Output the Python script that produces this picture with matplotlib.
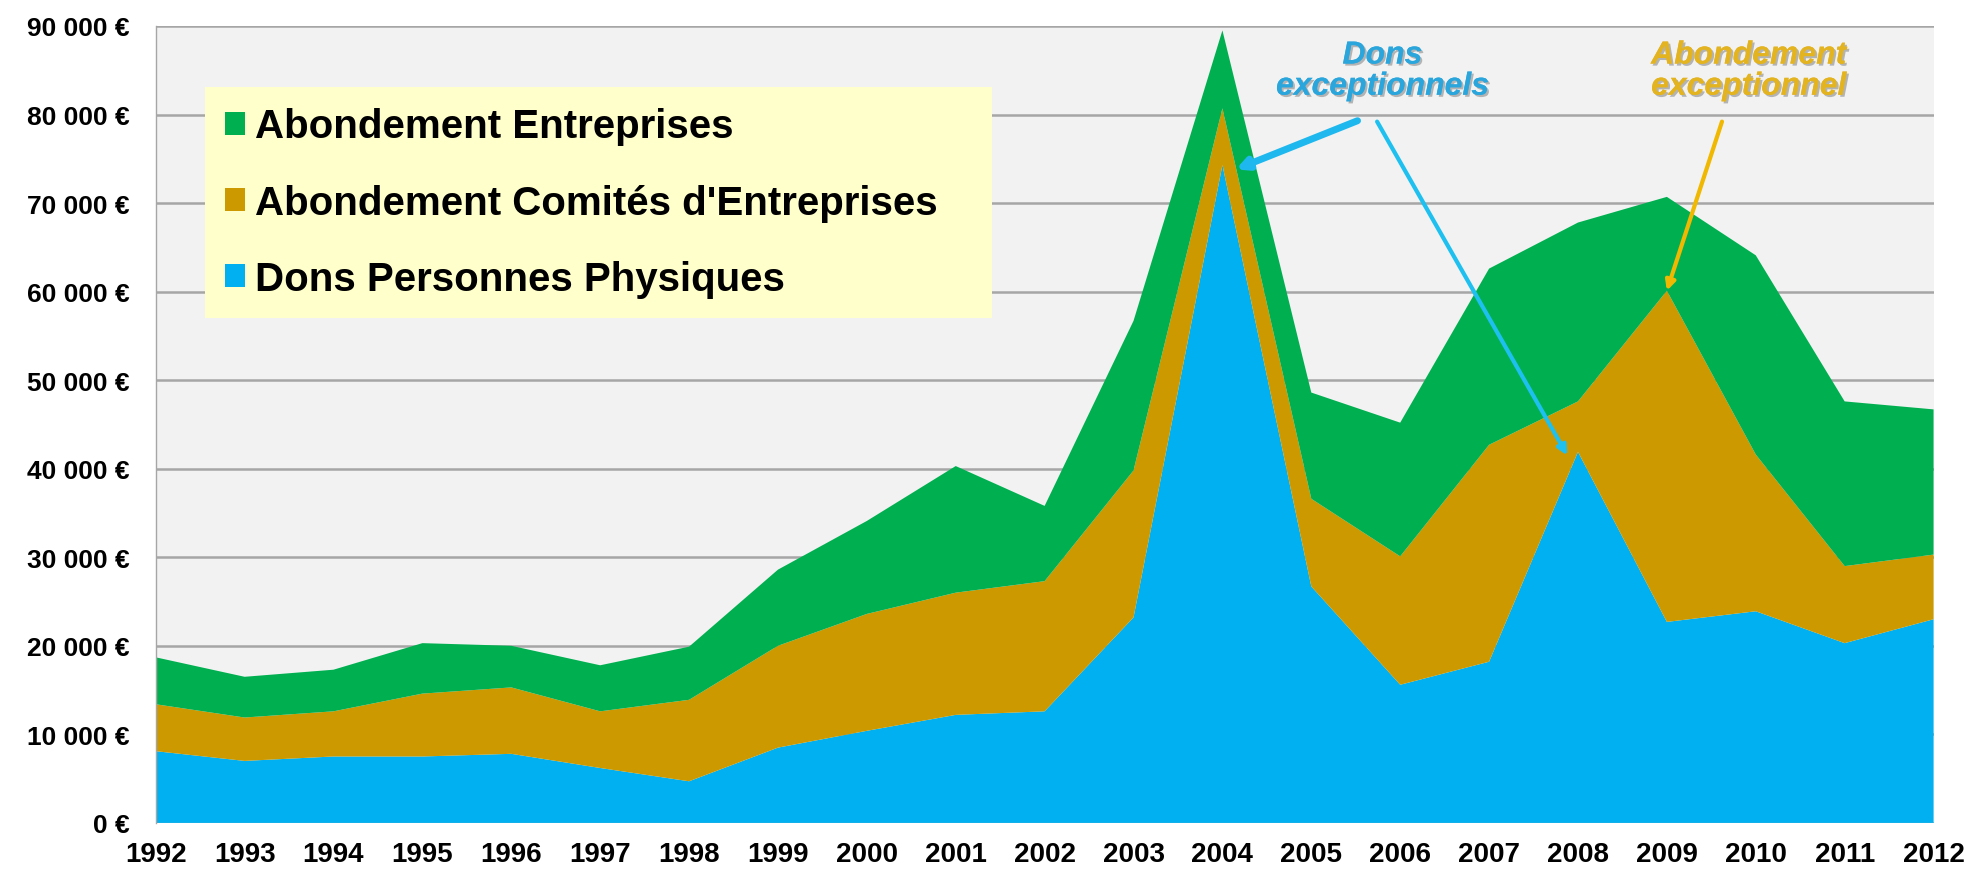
import matplotlib
matplotlib.use('Agg')
import matplotlib.pyplot as plt
import matplotlib.patheffects as pe
from matplotlib.patches import Patch

plt.rcParams['font.family'] = ['Liberation Sans', 'DejaVu Sans']

# values (euros per year)
years = list(range(1992, 2013))
dons_personnes = [8100, 7000, 7500, 7500, 7800, 6200, 4700, 8500, 10400, 12200, 12600,
                  23200, 74300, 26700, 15600, 18200, 41900, 22700, 23900, 20300, 23000]
abond_comites = [5300, 4900, 5100, 7100, 7500, 6400, 9200, 11500, 13200, 13800, 14700,
                 16600, 6400, 9900, 14500, 24500, 5700, 37400, 17700, 8700, 7300]
abond_entreprises = [5300, 4600, 4700, 5700, 4700, 5200, 6000, 8600, 10500, 14300, 8500,
                     16900, 8800, 12000, 15100, 19900, 20200, 10600, 22500, 18600, 16400]

series_labels = ['Dons Personnes Physiques', "Abondement Comités d'Entreprises",
                 'Abondement Entreprises']
colors = ['#00B0F0', '#CC9900', '#00B050']

yticks = list(range(0, 90001, 10000))
ytick_labels = [f'{v:,}'.replace(',', ' ') + ' €' for v in yticks]

fig = plt.figure(figsize=(19.71, 8.70), dpi=100)
ax = fig.add_axes([0.079, 0.053, 0.902, 0.916])
ax.set_facecolor('#F2F2F2')

ax.stackplot(years, dons_personnes, abond_comites, abond_entreprises,
             colors=colors, labels=series_labels, linewidth=0)

ax.set_xlim(years[0], years[-1])
ax.set_ylim(0, 90000)
ax.set_xticks(years)
ax.set_xticklabels([str(y) for y in years], fontsize=20, fontweight='bold')
ax.set_yticks(yticks)
ax.set_yticklabels(ytick_labels, fontsize=19, fontweight='bold')
ax.tick_params(axis='both', length=0)
ax.tick_params(axis='x', pad=13)
ax.tick_params(axis='y', pad=19)

ax.set_axisbelow(True)
ax.grid(axis='y', color='#A6A6A6', linewidth=1.8)
for side in ['top', 'right', 'bottom']:
    ax.spines[side].set_visible(False)
ax.spines['left'].set_color('#A6A6A6')
ax.spines['left'].set_linewidth(1.0)

# legend, top to bottom: green, gold, blue
handles = [Patch(facecolor=c) for c in colors]
leg = ax.legend(handles[::-1], series_labels[::-1], loc='upper left',
                bbox_to_anchor=(0.0276, 0.37, 0.443, 0.553), mode='expand',
                borderaxespad=0, borderpad=0.5, labelspacing=0.95,
                handlelength=0.5, handleheight=0.5, handletextpad=0.25,
                prop={'weight': 'bold', 'size': 29},
                facecolor='#FFFFCC', edgecolor='none', framealpha=1, fancybox=False)

shadow = [pe.withSimplePatchShadow(offset=(1.5, -1.5), shadow_rgbFace='#555555', alpha=0.4),
          pe.Normal()]

# annotations
i04 = years.index(2004)
i08 = years.index(2008)
i09 = years.index(2009)
ax.text(2005.8, 84900, 'Dons\nexceptionnels', color='#2BA6DC', fontsize=23,
        fontweight='bold', style='italic', ha='center', va='center',
        linespacing=1.05, path_effects=shadow)
ax.text(2009.92, 84900, 'Abondement\nexceptionnel', color='#E3B320', fontsize=23,
        fontweight='bold', style='italic', ha='center', va='center',
        linespacing=1.05, path_effects=shadow)

ax.annotate('', xy=(years[i04] + 0.15, dons_personnes[i04] - 500), xytext=(2005.52, 79300),
            arrowprops=dict(arrowstyle='-|>', color='#1EB8EE', lw=5, mutation_scale=16,
                            shrinkA=0, shrinkB=0))
ax.annotate('', xy=(years[i08] - 0.12, dons_personnes[i08] - 400), xytext=(2005.74, 79200),
            arrowprops=dict(arrowstyle='-|>', color='#1EC0F0', lw=3, mutation_scale=14,
                            shrinkA=0, shrinkB=0))
ax.annotate('', xy=(years[i09], dons_personnes[i09] + abond_comites[i09]), xytext=(2009.62, 79200),
            arrowprops=dict(arrowstyle='-|>', color='#F0B800', lw=3, mutation_scale=14,
                            shrinkA=0, shrinkB=0))

fig.savefig('out.png', dpi=100)
